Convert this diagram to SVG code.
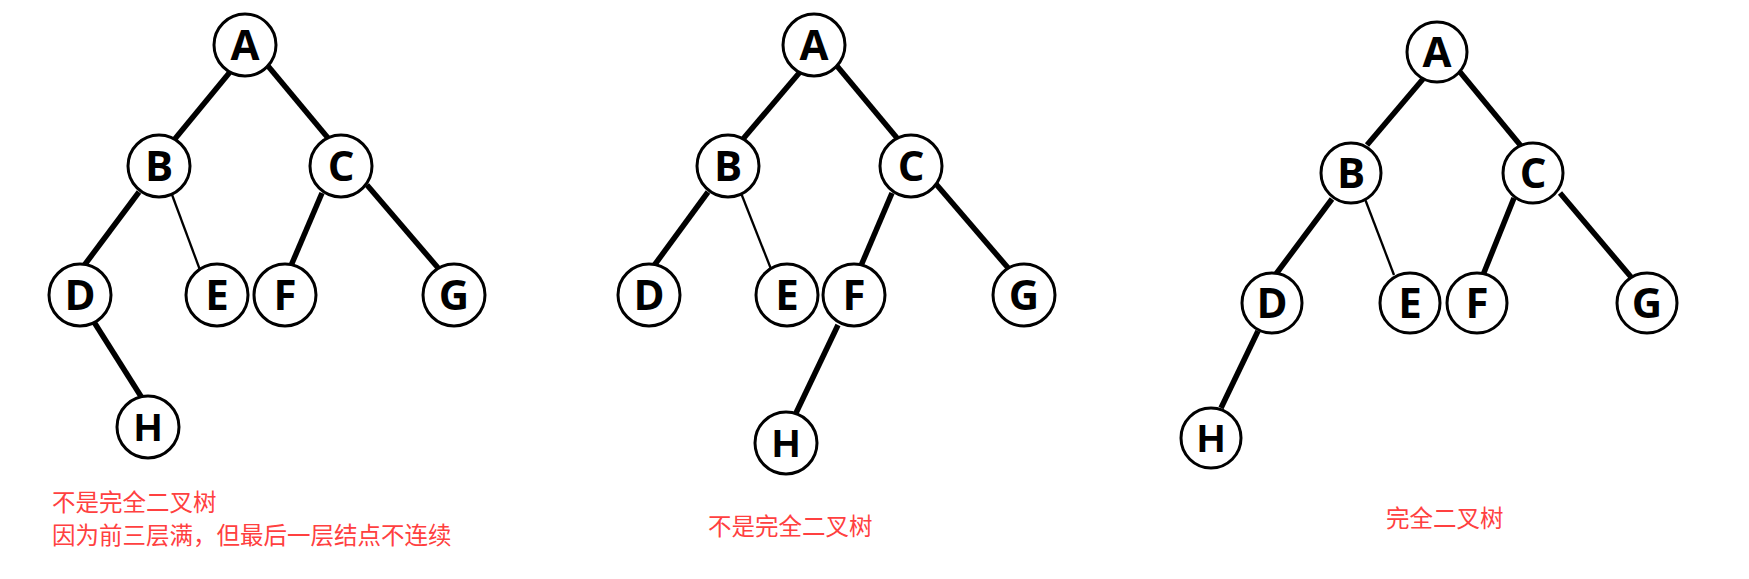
<svg xmlns="http://www.w3.org/2000/svg" width="1749" height="579" viewBox="0 0 1749 579">
<style>
.bg{fill:#fff}
.n circle{fill:#fff;stroke:#000;stroke-width:3}
.n text{font-family:"Open Sans","Liberation Sans",sans-serif;font-weight:bold;font-size:42px;text-anchor:middle;fill:#000}
.n text.h{font-family:"Liberation Sans",sans-serif;font-size:39px}
.e{stroke:#000;stroke-width:5.5;stroke-linecap:butt;fill:none}
.t{stroke:#000;stroke-width:2.3;fill:none}
.note{font-family:"Noto Sans CJK SC","Noto Sans",sans-serif;font-size:23.5px;fill:#ff4040}
</style>
<rect class="bg" x="0" y="0" width="1749" height="579"/>
<g id="connectors">
  <!-- tree 1 -->
  <line class="e" x1="230" y1="72" x2="174" y2="140"/>
  <line class="e" x1="268" y1="66" x2="328" y2="138"/>
  <line class="e" x1="139" y1="192" x2="83" y2="267"/>
  <line class="t" x1="171" y1="192" x2="200" y2="270"/>
  <line class="e" x1="322" y1="193" x2="290" y2="268"/>
  <line class="e" x1="367" y1="185" x2="439" y2="269"/>
  <line class="e" x1="94" y1="322" x2="142" y2="398"/>
  <!-- tree 2 -->
  <line class="e" x1="800" y1="72" x2="743" y2="139"/>
  <line class="e" x1="837" y1="66" x2="897" y2="138"/>
  <line class="e" x1="708" y1="192" x2="653" y2="267"/>
  <line class="t" x1="741" y1="193" x2="771" y2="269"/>
  <line class="e" x1="892" y1="193" x2="860" y2="268"/>
  <line class="e" x1="936" y1="184" x2="1009" y2="269"/>
  <line class="e" x1="838" y1="325" x2="796" y2="413"/>
  <!-- tree 3 -->
  <line class="e" x1="1423" y1="79" x2="1367" y2="145"/>
  <line class="e" x1="1460" y1="72" x2="1521" y2="146"/>
  <line class="e" x1="1332" y1="199" x2="1276" y2="274"/>
  <line class="t" x1="1365" y1="199" x2="1394" y2="275"/>
  <line class="e" x1="1514" y1="198" x2="1483" y2="275"/>
  <line class="e" x1="1560" y1="193" x2="1631" y2="277"/>
  <line class="e" x1="1258" y1="331" x2="1221" y2="408"/>
</g>
<!-- tree 1 nodes -->
<g id="t1-A" class="n" transform="translate(245 45)"><circle r="31"/><text y="15">A</text></g>
<g id="t1-B" class="n" transform="translate(159 166)"><circle r="31"/><text y="15">B</text></g>
<g id="t1-C" class="n" transform="translate(341 166)"><circle r="31"/><text y="15">C</text></g>
<g id="t1-D" class="n" transform="translate(80 295)"><circle r="31"/><text y="15">D</text></g>
<g id="t1-E" class="n" transform="translate(217 295)"><circle r="31"/><text y="15">E</text></g>
<g id="t1-F" class="n" transform="translate(285 295)"><circle r="31"/><text y="15">F</text></g>
<g id="t1-G" class="n" transform="translate(454 295)"><circle r="31"/><text y="15">G</text></g>
<g id="t1-H" class="n" transform="translate(148 427)"><circle r="31"/><text class="h" y="14">H</text></g>
<!-- tree 2 nodes -->
<g id="t2-A" class="n" transform="translate(814 45)"><circle r="31"/><text y="15">A</text></g>
<g id="t2-B" class="n" transform="translate(728 166)"><circle r="31"/><text y="15">B</text></g>
<g id="t2-C" class="n" transform="translate(911 166)"><circle r="31"/><text y="15">C</text></g>
<g id="t2-D" class="n" transform="translate(649 295)"><circle r="31"/><text y="15">D</text></g>
<g id="t2-E" class="n" transform="translate(787 295)"><circle r="31"/><text y="15">E</text></g>
<g id="t2-F" class="n" transform="translate(854 295)"><circle r="31"/><text y="15">F</text></g>
<g id="t2-G" class="n" transform="translate(1024 295)"><circle r="31"/><text y="15">G</text></g>
<g id="t2-H" class="n" transform="translate(786 443)"><circle r="31"/><text class="h" y="14">H</text></g>
<!-- tree 3 nodes -->
<g id="t3-A" class="n" transform="translate(1437 52)"><circle r="30"/><text y="15">A</text></g>
<g id="t3-B" class="n" transform="translate(1351 173)"><circle r="30"/><text y="15">B</text></g>
<g id="t3-C" class="n" transform="translate(1533 173)"><circle r="30"/><text y="15">C</text></g>
<g id="t3-D" class="n" transform="translate(1272 303)"><circle r="30"/><text y="15">D</text></g>
<g id="t3-E" class="n" transform="translate(1410 303)"><circle r="30"/><text y="15">E</text></g>
<g id="t3-F" class="n" transform="translate(1477 303)"><circle r="30"/><text y="15">F</text></g>
<g id="t3-G" class="n" transform="translate(1647 303)"><circle r="30"/><text y="15">G</text></g>
<g id="t3-H" class="n" transform="translate(1211 438)"><circle r="30"/><text class="h" y="14">H</text></g>
<!-- notes -->
<g id="notes">
  <text class="note" x="52" y="511">不是完全二叉树</text>
  <text class="note" x="52" y="544">因为前三层满，但最后一层结点不连续</text>
  <text class="note" x="708" y="535">不是完全二叉树</text>
  <text class="note" x="1386" y="527">完全二叉树</text>
</g>
</svg>
